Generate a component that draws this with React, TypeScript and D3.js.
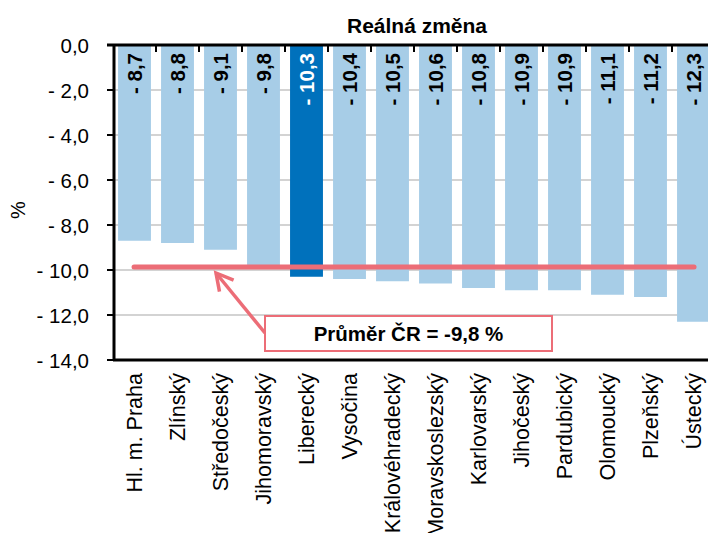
import React from 'react'
import * as d3 from 'd3'

const regions = [
    'Hl. m. Praha', 'Zlínský', 'Středočeský', 'Jihomoravský', 'Liberecký', 'Vysočina',
    'Královéhradecký', 'Moravskoslezský', 'Karlovarský', 'Jihočeský', 'Pardubický',
    'Olomoucký', 'Plzeňský', 'Ústecký',
]
const change = [-8.7, -8.8, -9.1, -9.8, -10.3, -10.4, -10.5, -10.6, -10.8, -10.9, -10.9, -11.1, -11.2, -12.3]
const highlighted = 'Liberecký'
const average = -9.8
const yTicks = [0, -2, -4, -6, -8, -10, -12, -14]

const W = 708
const H = 533
const margin = { top: 45, left: 113, bottom: 173 }
const plotRight = 715
const font = '"Liberation Sans", Arial, sans-serif'
const red = '#EC6D77'

const fmt = (v: number) => (v === 0 ? '0,0' : '- ' + Math.abs(v).toFixed(1).replace('.', ','))

function App() {
    const x = d3.scaleBand<string>()
        .domain(regions)
        .range([margin.left, plotRight])
        .paddingInner(0.235)
        .paddingOuter(0.1175)
    const y = d3.scaleLinear().domain([0, -14]).range([margin.top, H - margin.bottom])
    const step = x.step()

    const avgY = y(average) + 1.5
    const box = { x: 265, y: 316, w: 287, h: 35 }
    const tip = { x: 216, y: 273 }
    const tail = { x: box.x, y: 333 }
    const ang = Math.atan2(tail.y - tip.y, tail.x - tip.x)
    const wing = 19
    const spread = 0.5
    const w1 = { x: tip.x + wing * Math.cos(ang - spread), y: tip.y + wing * Math.sin(ang - spread) }
    const w2 = { x: tip.x + wing * Math.cos(ang + spread), y: tip.y + wing * Math.sin(ang + spread) }

    return (
        <svg width={W} height={H} style={{ position: 'absolute', left: 0, top: 0, fontFamily: font }}>
            <rect width={W} height={H} fill="#fff" />
            <text x={417} y={33} textAnchor="middle" fontSize={21} fontWeight="bold">Reálná změna</text>

            {/* grid */}
            {yTicks.slice(1, -1).map(t => (
                <line key={t} x1={margin.left} x2={plotRight} y1={y(t)} y2={y(t)} stroke="#C4C4C4" strokeWidth={1.5} />
            ))}

            {/* bars */}
            {regions.map((r, i) => (
                <rect key={r} x={x(r)} y={y(0)} width={x.bandwidth()} height={y(change[i]) - y(0)}
                    fill={r === highlighted ? '#0071BC' : '#A7CDE7'} />
            ))}

            {/* y axis */}
            <line x1={margin.left + 1} x2={margin.left + 1} y1={y(0)} y2={y(-14)} stroke="#000" strokeWidth={3} />
            {yTicks.map(t => (
                <g key={t}>
                    <line x1={margin.left - 6} x2={margin.left} y1={y(t)} y2={y(t)} stroke="#000" strokeWidth={2} />
                    <text x={89} y={y(t) + 1} dy="0.36em" textAnchor="end" fontSize={20.5}>{fmt(t)}</text>
                </g>
            ))}
            <text transform={`translate(18,${210}) rotate(-90)`} dy="0.36em" textAnchor="middle" fontSize={20}>%</text>

            {/* category axis at zero */}
            <line x1={margin.left - 6} x2={plotRight} y1={y(0)} y2={y(0)} stroke="#000" strokeWidth={3} />
            {regions.slice(1).map(r => (
                <line key={r} x1={(x(r) as number) - (step - x.bandwidth()) / 2} x2={(x(r) as number) - (step - x.bandwidth()) / 2}
                    y1={y(0)} y2={y(0) + 7} stroke="#000" strokeWidth={2} />
            ))}
            <line x1={margin.left} x2={plotRight} y1={y(-14)} y2={y(-14)} stroke="#000" strokeWidth={3} />

            {/* value labels */}
            {regions.map((r, i) => {
                const cx = (x(r) as number) + x.bandwidth() / 2
                return (
                    <text key={r} transform={`translate(${cx},${53}) rotate(-90)`} dy="0.36em" textAnchor="end"
                        fontSize={20.5} fontWeight="bold" fill={r === highlighted ? '#fff' : '#000'}>{fmt(change[i])}</text>
                )
            })}

            {/* category labels */}
            {regions.map(r => {
                const cx = (x(r) as number) + x.bandwidth() / 2
                return (
                    <text key={r} transform={`translate(${cx},${373}) rotate(-90)`} dy="0.36em" textAnchor="end" fontSize={21.5}>{r}</text>
                )
            })}

            {/* average */}
            <line x1={x(regions[0]) as number + 16} x2={(x(regions[regions.length - 1]) as number) + 17} y1={avgY} y2={avgY}
                stroke={red} strokeWidth={5} strokeLinecap="round" />
            <line x1={tail.x} y1={tail.y} x2={tip.x} y2={tip.y} stroke={red} strokeWidth={3.5} />
            <polyline points={`${w1.x},${w1.y} ${tip.x},${tip.y} ${w2.x},${w2.y}`} fill="none" stroke={red} strokeWidth={3.5} strokeLinejoin="miter" />
            <rect x={box.x} y={box.y} width={box.w} height={box.h} fill="#fff" stroke={red} strokeWidth={2} />
            <text x={box.x + box.w / 2} y={box.y + box.h / 2} dy="0.36em" textAnchor="middle" fontSize={20.5} fontWeight="bold">
                Průměr ČR = -9,8 %
            </text>
        </svg>
    )
}

export default App
